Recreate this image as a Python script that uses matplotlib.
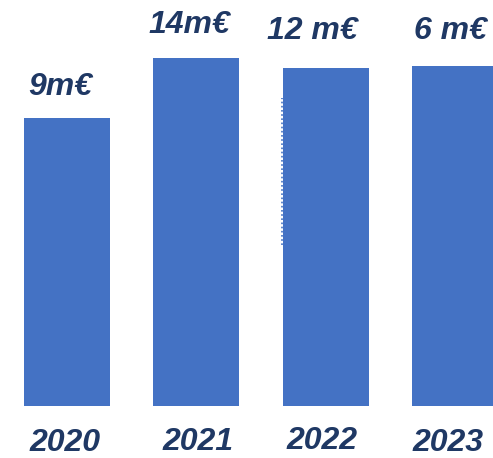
import matplotlib.pyplot as plt
import numpy as np

years = ["2020", "2021", "2022", "2023"]
value_labels = ["9m€", "14m€", "12 m€", "6 m€"]
bar_heights = [288, 348, 338, 340]

bar_color = "#4472C4"
text_color = "#1F3864"

# small per-label nudges (pixels) to mimic the hand placed labels
label_dx = [-7, -7, -13, -4]
label_gap = [31, 33, 37, 35]
year_dx = [-2, 2, -4, -7]
year_dy = [-37, -36, -35, -37]

fig = plt.figure(figsize=(4.93, 4.58), dpi=100)
ax = fig.add_axes([0, 0, 1, 1])

x = np.arange(len(years))
step = 129.3
ax.bar(x, bar_heights, width=86 / step, color=bar_color)
ax.set_xlim(-67 / step, (493 - 67) / step)
ax.set_ylim(-52, 406)

# faint dotted edge on the 2022 bar
ax.plot([x[2] - 44 / step] * 2, [161, 308], color=bar_color,
        lw=1.2, ls=(0, (1, 1.5)))

font = dict(family="Liberation Sans", weight="bold", style="italic",
            size=23, color=text_color, ha="center", va="center")

for i in range(len(years)):
    ax.text(x[i] + label_dx[i] / step, bar_heights[i] + label_gap[i],
            value_labels[i], **font)
    ax.text(x[i] + year_dx[i] / step, year_dy[i], years[i], **font)

ax.axis("off")
fig.savefig("out.png", dpi=100)
